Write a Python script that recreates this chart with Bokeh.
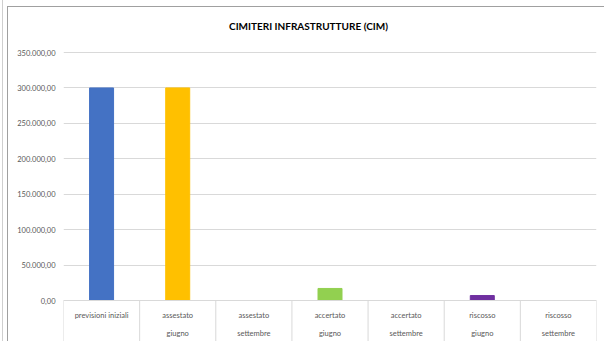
from bokeh.plotting import figure
from bokeh.models import Range1d, FixedTicker, ColumnDataSource
from bokeh.core.properties import value
from bokeh.embed import file_html
from bokeh.resources import INLINE

# ---- data ----
title_text = "CIMITERI INFRASTRUTTURE (CIM)"
categories = ["previsioni iniziali", "assestato giugno", "assestato settembre",
              "accertato giugno", "accertato settembre", "riscosso giugno", "riscosso settembre"]
label_line1 = ["previsioni iniziali", "assestato", "assestato", "accertato", "accertato", "riscosso", "riscosso"]
label_line2 = ["", "giugno", "settembre", "giugno", "settembre", "giugno", "settembre"]
values = [300000, 300000, 0, 17000, 0, 7000, 0]
colors = ["#4472C4", "#FFC000", "#A5A5A5", "#92D050", "#5B9BD5", "#7030A0", "#70AD47"]
y_ticks = [0, 50000, 100000, 150000, 200000, 250000, 300000, 350000]
y_tick_labels = ["0,00", "50.000,00", "100.000,00", "150.000,00", "200.000,00",
                 "250.000,00", "300.000,00", "350.000,00"]

# ---- layout ----
W, H = 604, 341
left_b, right_b = 63, 8
y_max = 350000
px_zero = 300           # pixel row of value 0
px_top = 52             # pixel row of y_max
upp = y_max / (px_zero - px_top)   # units per pixel
y0 = -(H - px_zero) * upp
y1 = y_max + px_top * upp
n = len(categories)
frame_w = W - left_b - right_b
xpp = n / frame_w

p = figure(width=W, height=H, output_backend="svg", toolbar_location=None,
           x_range=Range1d(0, n), y_range=Range1d(y0, y1),
           x_axis_location=None, y_axis_location="left",
           min_border_left=left_b, min_border_right=right_b,
           min_border_top=0, min_border_bottom=0,
           background_fill_alpha=0, border_fill_alpha=0)
p.outline_line_color = None
p.xgrid.visible = False
p.ygrid.ticker = FixedTicker(ticks=y_ticks)
p.ygrid.grid_line_color = "#d9d9d9"
p.ygrid.grid_line_width = 1

# sheet frame lines behind the transparent canvas
p.styles = {
    "background": ("linear-gradient(#cfcfcf,#cfcfcf) 2px 0px / 1px 100% no-repeat, "
                   "linear-gradient(#a0a0a0,#a0a0a0) 7px 6px / 1px 100% no-repeat, "
                   "linear-gradient(#a0a0a0,#a0a0a0) 7px 6px / 100% 1px no-repeat, "
                   "#ffffff")
}

ax = p.yaxis[0]
ax.ticker = FixedTicker(ticks=y_ticks)
ax.major_label_overrides = {t: s for t, s in zip(y_ticks, y_tick_labels)}
ax.axis_line_color = None
ax.major_tick_line_color = None
ax.minor_tick_line_color = None
ax.major_tick_out = 0
ax.major_tick_in = 0
ax.major_label_standoff = 8
ax.major_label_text_font = "Lato"
ax.major_label_text_font_size = "7.5px"
ax.major_label_text_color = "#595959"

xs = [i + 0.5 for i in range(n)]
src = ColumnDataSource(dict(x=xs, top=values, color=colors, l1=label_line1, l2=label_line2))
p.vbar(x="x", top="top", bottom=0, width=24 * xpp, color="color", source=src)

# category box lines
p.segment(x0=0, y0=0, x1=n, y1=0, line_color="#d9d9d9", line_width=1)
p.segment(x0=list(range(n + 1)), y0=[0] * (n + 1), x1=list(range(n + 1)), y1=[y0] * (n + 1),
          line_color="#d9d9d9", line_width=1)

p.text(x="x", y=-15 * upp, text="l1", source=src, text_align="center", text_baseline="middle",
       text_font=value("Lato"), text_font_size="7.5px", text_color="#595959")
p.text(x="x", y=-33 * upp, text="l2", source=src, text_align="center", text_baseline="middle",
       text_font=value("Lato"), text_font_size="7.5px", text_color="#595959")

# title
p.text(x=[(308 - left_b) * xpp], y=[(px_zero - 25) * upp], text=[title_text],
       text_align="center", text_baseline="middle", text_font=value("Lato"),
       text_font_style="bold", text_font_size="10px", text_color="#000000")

open("out.html", "w").write(file_html(p, INLINE))
